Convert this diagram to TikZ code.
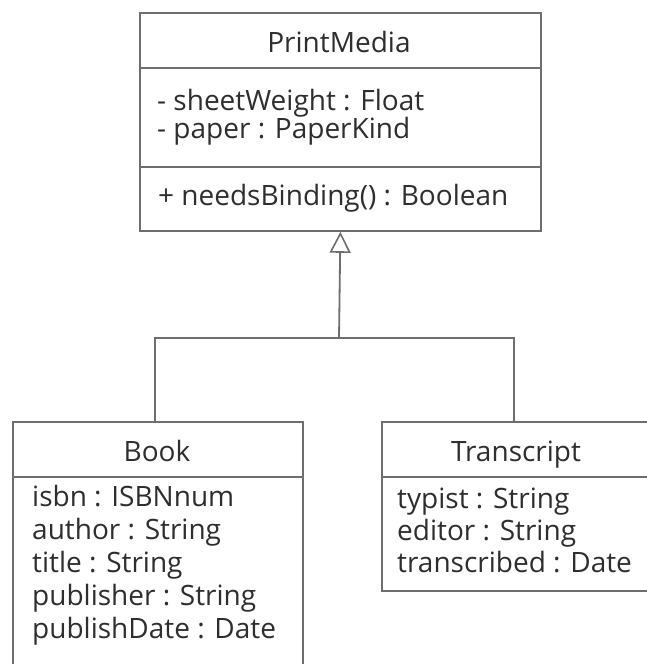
\documentclass[tikz,border=0pt]{standalone}
\usepackage{fontspec}
\setmainfont{Open Sans}
\usetikzlibrary{arrows.meta}
\definecolor{linec}{HTML}{6E6E6E}
\definecolor{textc}{HTML}{2E2E2E}
\tikzset{
  classbox/.style={draw=linec, line width=1.8pt, rectangle, inner sep=0pt, anchor=north west},
  divider/.style={draw=linec, line width=1.8pt},
  conn/.style={draw=linec, line width=1.8pt},
  txt/.style={text=textc, font=\fontsize{28}{32}\selectfont, inner sep=0pt, anchor=base west},
  ttl/.style={text=textc, font=\fontsize{28}{32}\selectfont, inner sep=0pt, anchor=base},
  gen/.style={-{Triangle[open, length=21pt, width=21pt, line width=1.6pt]}}
}
\begin{document}
\begin{tikzpicture}[x=1pt, y=-1pt]
\useasboundingbox (0,0) rectangle (646,664);
\fill[white] (0,0) rectangle (646,664);
% PrintMedia
\node[classbox, minimum width=401pt, minimum height=218pt] (pm) at (139,12) {};
\draw[divider] (139,68) -- (540,68);
\draw[divider] (139,167) -- (540,167);
\node[ttl] (pmt) at (339,52) {PrintMedia};
\node[txt] (pma1) at (157,110) {- sheetWeight : Float};
\node[txt] (pma2) at (157,138) {- paper : PaperKind};
\node[txt] (pmo1) at (158,205) {+ needsBinding() : Boolean};
% Book
\node[classbox, minimum width=290pt, minimum height=260pt] (book) at (12,421) {};
\draw[divider] (12,477) -- (302,477);
\node[ttl] (bookt) at (157,461) {Book};
\node[txt] (b1) at (32,506) {isbn : ISBNnum};
\node[txt] (b2) at (32,539) {author : String};
\node[txt] (b3) at (32,572) {title : String};
\node[txt] (b4) at (32,605) {publisher : String};
\node[txt] (b5) at (32,638) {publishDate : Date};
% Transcript
\node[classbox, minimum width=266pt, minimum height=169pt] (tr) at (381,421) {};
\draw[divider] (381,477) -- (647,477);
\node[ttl] (trt) at (516,461) {Transcript};
\node[txt] (t1) at (397,508) {typist : String};
\node[txt] (t2) at (397,540) {editor : String};
\node[txt] (t3) at (397,572) {transcribed : Date};
% connectors
\coordinate (join) at (339,338);
\draw[conn] (book.north -| 155,0) |- (join) -| (tr.north -| 514,0);
\draw[conn, gen] (join) -- (pm.south);
\end{tikzpicture}
\end{document}
